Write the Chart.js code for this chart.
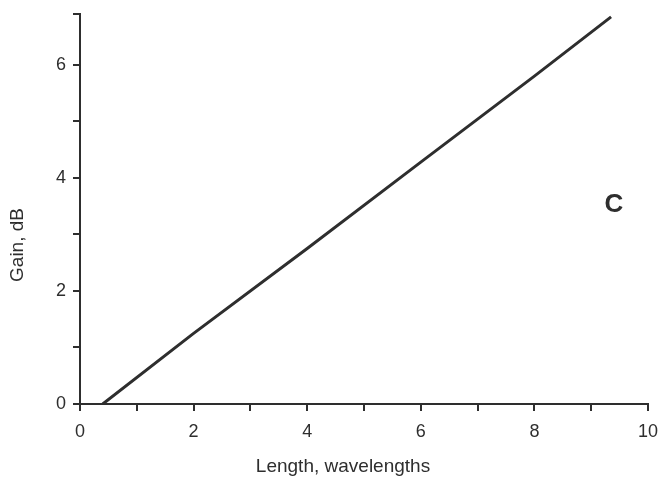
<!DOCTYPE html>
<html>
<head>
<meta charset="utf-8">
<script src="https://cdn.jsdelivr.net/npm/chart.js@4"></script>
<style>
  body { margin: 0; background: #fff; }
</style>
</head>
<body>
<canvas id="chart" width="664" height="478"></canvas>
<script>
// gain vs. antenna length
const lengthWl = [0.4, 2, 4, 6, 8, 9.35];
const gainDb = [0, 1.25, 2.75, 4.28, 5.8, 6.85];
const panelLabel = 'C';
const xTitle = 'Length, wavelengths';
const yTitle = 'Gain, dB';

const ink = '#2e2e2e';
const font = "'Liberation Sans', Arial, sans-serif";

// panel letter and axis titles, placed like the original figure
const extraText = {
    id: 'extraText',
    afterDraw(chart) {
        const c = chart.ctx;
        const x = chart.scales.x.getPixelForValue(9.4);
        const y = chart.scales.y.getPixelForValue(3.52);
        c.save();
        c.fillStyle = ink;
        c.textAlign = 'center';
        c.textBaseline = 'middle';
        c.font = "bold 26px " + font;
        c.fillText(panelLabel, x, y);

        c.font = "19px " + font;
        c.fillText(xTitle, 343, 467);

        c.translate(18, 245);
        c.rotate(-Math.PI / 2);
        c.fillText(yTitle, 0, 0);
        c.restore();
    }
};

let ctx = document.getElementById('chart').getContext('2d');
let myChart = new Chart(ctx, {
    type: 'line',
    data: {
        datasets: [{
            data: lengthWl.map((v, i) => ({ x: v, y: gainDb[i] })),
            borderColor: ink,
            borderWidth: 3,
            pointRadius: 0,
            tension: 0,
        }]
    },
    options: {
        responsive: false,
        animation: false,
        layout: { padding: { top: 14, right: 16, left: 0, bottom: 0 } },
        plugins: { legend: { display: false }, tooltip: { enabled: false } },
        scales: {
            x: {
                type: 'linear',
                min: 0,
                max: 10,
                afterFit: scale => {
                    scale.height = 74;
                    scale.paddingLeft = 0;
                    scale.paddingRight = 0;
                },
                border: { color: ink, width: 2 },
                grid: { drawOnChartArea: false, tickLength: 7, tickColor: ink, lineWidth: 2 },
                ticks: {
                    stepSize: 1,
                    color: ink,
                    padding: 10,
                    font: { family: font, size: 18 },
                    callback: v => (v % 2 === 0 ? v : ''),
                    maxRotation: 0,
                },
            },
            y: {
                min: 0,
                max: 6.9,
                afterFit: scale => {
                    scale.width = 80;
                    scale.paddingTop = 0;
                    scale.paddingBottom = 0;
                },
                border: { color: ink, width: 2 },
                grid: { drawOnChartArea: false, tickLength: 7, tickColor: ink, lineWidth: 2 },
                ticks: {
                    stepSize: 1,
                    color: ink,
                    padding: 7,
                    font: { family: font, size: 18 },
                    callback: v => (v % 2 === 0 ? v : ''),
                },
            }
        }
    },
    plugins: [extraText]
});
</script>
</body>
</html>
